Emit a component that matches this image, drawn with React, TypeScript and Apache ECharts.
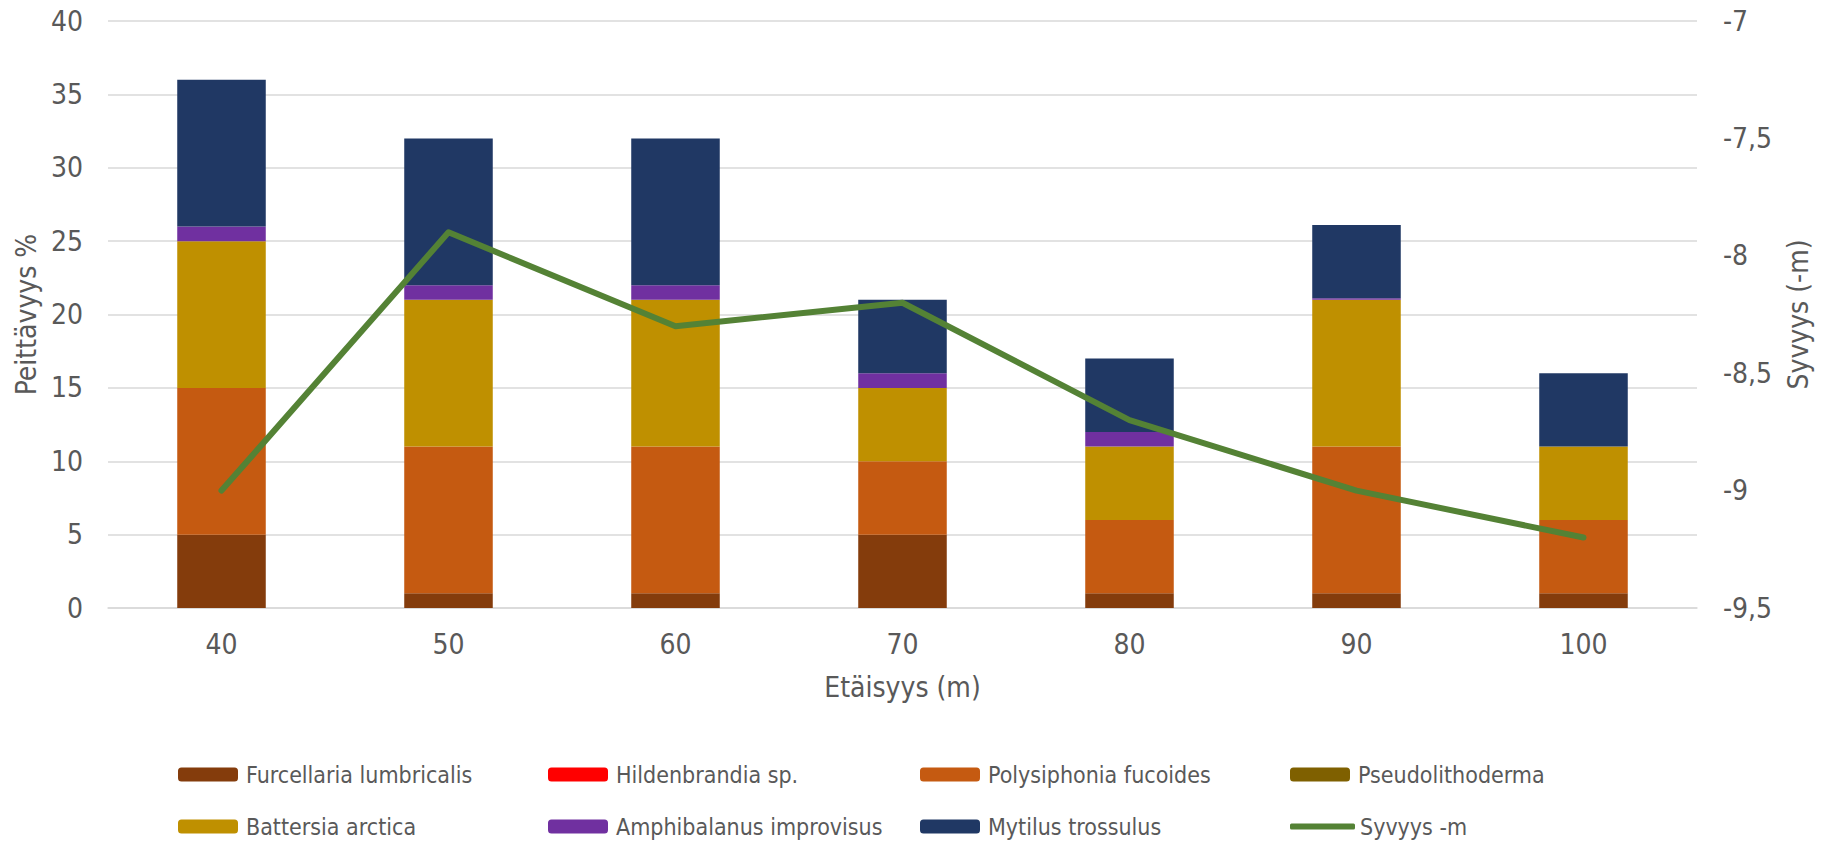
import React, { useEffect, useRef } from "react";
import * as echarts from "echarts";

const categories = ["40", "50", "60", "70", "80", "90", "100"];
const furcellaria = [5, 1, 1, 5, 1, 1, 1];
const hildenbrandia = [0, 0, 0, 0, 0, 0, 0];
const polysiphonia = [10, 10, 10, 5, 5, 10, 5];
const pseudolithoderma = [0, 0, 0, 0, 0, 0, 0];
const battersia = [10, 10, 10, 5, 5, 10, 5];
const amphibalanus = [1, 1, 1, 1, 1, 0.1, 0];
const mytilus = [10, 10, 10, 5, 5, 5, 5];
const syvyys = [-9.0, -7.9, -8.3, -8.2, -8.7, -9.0, -9.2];
const leftTicks = { min: 0, max: 40, interval: 5 };
const rightTicks = { min: -9.5, max: -7, interval: 0.5 };

const FONT = "'Liberation Sans Narrow', 'DejaVu Sans Condensed', 'Open Sans', sans-serif";
const TXT = "#595959";
const LINE_COLOR = "#548235";

const barSeries = [
  { name: "Furcellaria lumbricalis", data: furcellaria, color: "#843C0C" },
  { name: "Hildenbrandia sp.", data: hildenbrandia, color: "#FF0000" },
  { name: "Polysiphonia fucoides", data: polysiphonia, color: "#C55A11" },
  { name: "Pseudolithoderma", data: pseudolithoderma, color: "#7F6000" },
  { name: "Battersia arctica", data: battersia, color: "#BF9000" },
  { name: "Amphibalanus improvisus", data: amphibalanus, color: "#7030A0" },
  { name: "Mytilus trossulus", data: mytilus, color: "#203864" },
];
const lineName = "Syvyys -m";
const legendOrder = [
  "Furcellaria lumbricalis",
  "Hildenbrandia sp.",
  "Polysiphonia fucoides",
  "Pseudolithoderma",
  "Battersia arctica",
  "Amphibalanus improvisus",
  "Mytilus trossulus",
  lineName,
];

export default function App() {
  const ref = useRef<HTMLDivElement>(null);
  useEffect(() => {
    if (!ref.current) return;
    const chart = echarts.init(ref.current, undefined, { renderer: "svg" });
    const colLefts = [178, 548, 920, 1290];
    const rowTops = [763, 815];
    const legends = legendOrder.map((name, i) => {
      const isLine = name === lineName;
      return {
        data: isLine
          ? [{ name, icon: "roundRect", itemStyle: { color: LINE_COLOR } }]
          : [name],
        left: colLefts[i % 4],
        top: rowTops[Math.floor(i / 4)],
        itemWidth: isLine ? 65 : 60,
        itemHeight: isLine ? 6 : 14,
        padding: 0,
        selectedMode: false,
        textStyle: { color: TXT, fontFamily: FONT, fontSize: 23, padding: [0, 0, 0, isLine ? 0 : 3] },
      };
    });
    chart.setOption({
      animation: false,
      backgroundColor: "#ffffff",
      grid: { left: 108, right: 132, top: 21, bottom: 237, containLabel: false },
      legend: legends,
      xAxis: {
        type: "category",
        data: categories,
        name: "Etäisyys (m)",
        nameLocation: "middle",
        nameGap: 65,
        nameTextStyle: { color: TXT, fontFamily: FONT, fontSize: 28 },
        axisLine: { show: true, lineStyle: { color: "#d9d9d9", width: 1.5 } },
        axisTick: { show: false },
        axisLabel: { color: TXT, fontFamily: FONT, fontSize: 28, margin: 22 },
      },
      yAxis: [
        {
          type: "value",
          ...leftTicks,
          name: "Peittävyys %",
          nameLocation: "middle",
          nameGap: 68,
          nameTextStyle: { color: TXT, fontFamily: FONT, fontSize: 28 },
          axisLine: { show: false },
          axisTick: { show: false },
          axisLabel: { color: TXT, fontFamily: FONT, fontSize: 28, margin: 25 },
          splitLine: { lineStyle: { color: "#d9d9d9", width: 1.5 } },
        },
        {
          type: "value",
          ...rightTicks,
          position: "right",
          name: "Syvyys (-m)",
          nameLocation: "middle",
          nameGap: 87,
          nameRotate: 90,
          nameTextStyle: { color: TXT, fontFamily: FONT, fontSize: 28 },
          axisLine: { show: false },
          axisTick: { show: false },
          axisLabel: {
            color: TXT,
            fontFamily: FONT,
            fontSize: 28,
            margin: 26,
            formatter: (v: number) => String(v).replace(".", ","),
          },
          splitLine: { show: false },
        },
      ],
      series: [
        ...barSeries.map((s) => ({
          name: s.name,
          type: "bar",
          stack: "total",
          data: s.data,
          barWidth: "39%",
          itemStyle: { color: s.color },
        })),
        {
          name: lineName,
          type: "line",
          yAxisIndex: 1,
          data: syvyys,
          symbol: "none",
          z: 5,
          itemStyle: { color: LINE_COLOR },
          lineStyle: { color: LINE_COLOR, width: 6, cap: "round", join: "round" },
        },
      ],
    });
    return () => chart.dispose();
  }, []);
  return (
    <div
      ref={ref}
      style={{ position: "fixed", left: 0, top: 0, width: 1829, height: 845 }}
    />
  );
}
